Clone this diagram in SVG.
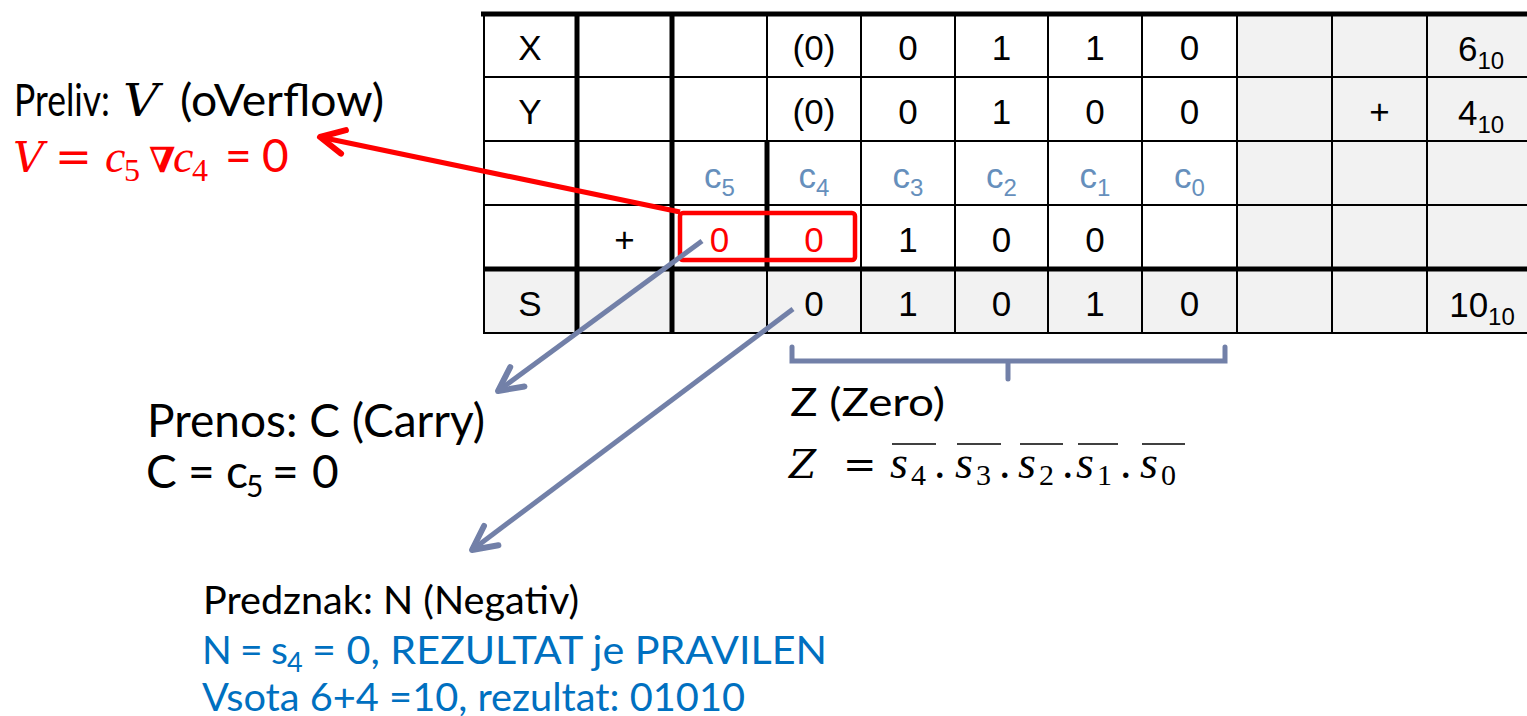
<svg xmlns="http://www.w3.org/2000/svg" width="1527" height="716" viewBox="0 0 1527 716">
<style>
.cell{font-family:"Liberation Sans",Arial,sans-serif;font-size:35px;fill:#000;text-anchor:middle}
.sub{font-size:24px}
.cl{fill:#668fbc}
.red{fill:#ff0000}
.thin{stroke:#000;stroke-width:2}
.thick{stroke:#000;stroke-width:5}
.gs{font-family:Lato,"Open Sans",sans-serif;fill:#000}
.blue{fill:#0070c0}
.m{font-family:"Liberation Serif","DejaVu Serif",serif;font-style:italic}
.dm{font-family:"DejaVu Serif",serif;font-style:italic}
.du{font-family:"DejaVu Serif",serif}
.lu{font-family:"Liberation Serif",serif}
.conn{fill:none;stroke:#7280a8;stroke-width:5}
</style>
<defs>
<marker id="ar" markerUnits="userSpaceOnUse" viewBox="-32 -18 38 36" refX="0" refY="0" markerWidth="38" markerHeight="36" orient="auto" overflow="visible">
<path d="M-24 -12 L0 0 L-24 12" fill="none" stroke="#ff0000" stroke-width="6" stroke-linecap="round" stroke-linejoin="round"/>
</marker>
<marker id="ab" markerUnits="userSpaceOnUse" viewBox="-32 -18 38 36" refX="0" refY="0" markerWidth="38" markerHeight="36" orient="auto" overflow="visible">
<path d="M-24 -12 L0 0 L-24 12" fill="none" stroke="#7280a8" stroke-width="6" stroke-linecap="round" stroke-linejoin="round"/>
</marker>
</defs>
<rect width="1527" height="716" fill="#fff"/>

<g id="table">
<rect x="483" y="13" width="754" height="256" fill="#fff"/>
<rect x="1237" y="13" width="295" height="256" fill="#f2f2f2"/>
<rect x="483" y="269" width="1049" height="64" fill="#f2f2f2"/>
<g class="thin">
<line x1="483" y1="77" x2="1530" y2="77"/>
<line x1="483" y1="141" x2="1530" y2="141"/>
<line x1="483" y1="205" x2="1530" y2="205"/>
<line x1="483" y1="333" x2="1530" y2="333"/>
<line x1="484" y1="13" x2="484" y2="334"/>
<line x1="767" y1="13" x2="767" y2="141"/>
<line x1="767" y1="269" x2="767" y2="334"/>
<line x1="861" y1="13" x2="861" y2="334"/>
<line x1="955" y1="13" x2="955" y2="334"/>
<line x1="1048" y1="13" x2="1048" y2="334"/>
<line x1="1142" y1="13" x2="1142" y2="334"/>
<line x1="1237" y1="13" x2="1237" y2="334"/>
<line x1="1332" y1="13" x2="1332" y2="334"/>
<line x1="1427" y1="13" x2="1427" y2="334"/>
</g>
<g class="thick">
<line x1="481" y1="14" x2="1530" y2="14"/>
<line x1="483" y1="269" x2="1530" y2="269"/>
<line x1="577" y1="13" x2="577" y2="334"/>
<line x1="672" y1="13" x2="672" y2="334"/>
<line x1="767" y1="141" x2="767" y2="269"/>
</g>
<g class="cell">
<text x="530" y="60">X</text>
<text x="814" y="60">(0)</text>
<text x="908" y="60">0</text>
<text x="1001.5" y="60">1</text>
<text x="1095" y="60">1</text>
<text x="1189.5" y="60">0</text>
<text x="1481" y="61">6<tspan class="sub" dy="8">10</tspan></text>

<text x="530" y="124">Y</text>
<text x="814" y="124">(0)</text>
<text x="908" y="124">0</text>
<text x="1001.5" y="124">1</text>
<text x="1095" y="124">0</text>
<text x="1189.5" y="124">0</text>
<text x="1379.5" y="124">+</text>
<text x="1481" y="125">4<tspan class="sub" dy="8">10</tspan></text>

<text class="cl" x="719.5" y="188">c<tspan class="sub" dy="8">5</tspan></text>
<text class="cl" x="814" y="188">c<tspan class="sub" dy="8">4</tspan></text>
<text class="cl" x="908" y="188">c<tspan class="sub" dy="8">3</tspan></text>
<text class="cl" x="1001.5" y="188">c<tspan class="sub" dy="8">2</tspan></text>
<text class="cl" x="1095" y="188">c<tspan class="sub" dy="8">1</tspan></text>
<text class="cl" x="1189.5" y="188">c<tspan class="sub" dy="8">0</tspan></text>

<text x="624.5" y="252">+</text>
<text class="red" x="719.5" y="252">0</text>
<text class="red" x="814" y="252">0</text>
<text x="908" y="252">1</text>
<text x="1001.5" y="252">0</text>
<text x="1095" y="252">0</text>

<text x="530" y="316">S</text>
<text x="814" y="316">0</text>
<text x="908" y="316">1</text>
<text x="1001.5" y="316">0</text>
<text x="1095" y="316">1</text>
<text x="1189.5" y="316">0</text>
<text x="1482" y="317">10<tspan class="sub" dy="8">10</tspan></text>
</g>
<rect x="680" y="213" width="175" height="47" rx="3" fill="none" stroke="#ff0000" stroke-width="4.5"/>
</g>

<g id="connectors">
<line x1="680" y1="212" x2="320" y2="137" stroke="#ff0000" stroke-width="5" marker-end="url(#ar)"/>
<line class="conn" x1="702" y1="241" x2="498" y2="391" marker-end="url(#ab)"/>
<line class="conn" x1="793" y1="309" x2="472" y2="550" marker-end="url(#ab)"/>
<path class="conn" d="M792 347 V361 H1225 V347 M1008 361 V379" stroke-linecap="round"/>
</g>

<g id="overflow">
<text class="gs" x="14" y="116" font-size="44" textLength="96" lengthAdjust="spacingAndGlyphs">Preliv:</text>
<text class="dm" x="123" y="116" font-size="44" textLength="36" lengthAdjust="spacingAndGlyphs">V</text>
<text class="gs" x="180" y="116" font-size="44" textLength="204" lengthAdjust="spacingAndGlyphs">(oVerflow)</text>
<g class="red">
<text class="dm" x="13" y="172" font-size="43">V</text>
<text class="du" x="55" y="172" font-size="44">=</text>
<text class="m" x="105" y="172" font-size="46">c</text>
<text class="lu" x="124" y="181" font-size="32">5</text>
<text x="149" y="172" font-size="35" font-family="DejaVu Serif,serif" font-weight="bold" font-style="italic">∇</text>
<text class="m" x="173" y="172" font-size="46">c</text>
<text class="lu" x="192" y="181" font-size="32">4</text>
<text x="225" y="172" font-size="46" font-family="Lato,sans-serif">=</text>
<text x="262" y="172" font-size="46" font-family="Lato,sans-serif">0</text>
</g>
</g>

<g id="carry">
<text class="gs" x="147" y="437" font-size="46" textLength="338" lengthAdjust="spacingAndGlyphs">Prenos: C (Carry)</text>
<text class="gs" x="146" y="488" font-size="46">C</text>
<text class="gs" x="188" y="488" font-size="46">=</text>
<text class="gs" x="226" y="488" font-size="46">c</text>
<text class="gs" x="246" y="497" font-size="30">5</text>
<text class="gs" x="272" y="488" font-size="46">=</text>
<text class="gs" x="312" y="488" font-size="46">0</text>
</g>

<g id="zero">
<text class="gs" x="790" y="416" font-size="39" textLength="155" lengthAdjust="spacingAndGlyphs">Z (Zero)</text>
<text class="dm" x="789" y="478" font-size="39">Z</text>
<text class="du" x="843" y="478" font-size="40">=</text>
<g class="lu" font-size="46">
<text class="m" x="890" y="478">s</text><text x="911" y="485" font-size="30">4</text><text x="934" y="478">.</text>
<text class="m" x="955" y="478">s</text><text x="976" y="485" font-size="30">3</text><text x="999" y="478">.</text>
<text class="m" x="1018" y="478">s</text><text x="1039" y="485" font-size="30">2</text><text x="1062" y="478">.</text>
<text class="m" x="1076" y="478">s</text><text x="1097" y="485" font-size="30">1</text><text x="1120" y="478">.</text>
<text class="m" x="1140" y="478">s</text><text x="1161" y="485" font-size="30">0</text>
</g>
<g stroke="#000" stroke-width="1.6">
<line x1="892" y1="444" x2="936" y2="444"/>
<line x1="957" y1="444" x2="1001" y2="444"/>
<line x1="1020" y1="444" x2="1063" y2="444"/>
<line x1="1078" y1="444" x2="1118" y2="444"/>
<line x1="1142" y1="444" x2="1185" y2="444"/>
</g>
</g>

<g id="negative">
<text class="gs" x="203" y="614" font-size="39" textLength="376" lengthAdjust="spacingAndGlyphs">Predznak: N (Negativ)</text>
<text class="gs blue" x="202" y="664" font-size="39">N</text>
<text class="gs blue" x="240" y="664" font-size="39">=</text>
<text class="gs blue" x="271" y="664" font-size="39">s</text>
<text class="gs blue" x="287" y="672" font-size="27">4</text>
<text class="gs blue" x="312" y="664" font-size="39" textLength="515" lengthAdjust="spacingAndGlyphs">= 0, REZULTAT je PRAVILEN</text>
<text class="gs blue" x="202" y="711" font-size="39" textLength="543" lengthAdjust="spacingAndGlyphs">Vsota 6+4 =10, rezultat: 01010</text>
</g>
</svg>
